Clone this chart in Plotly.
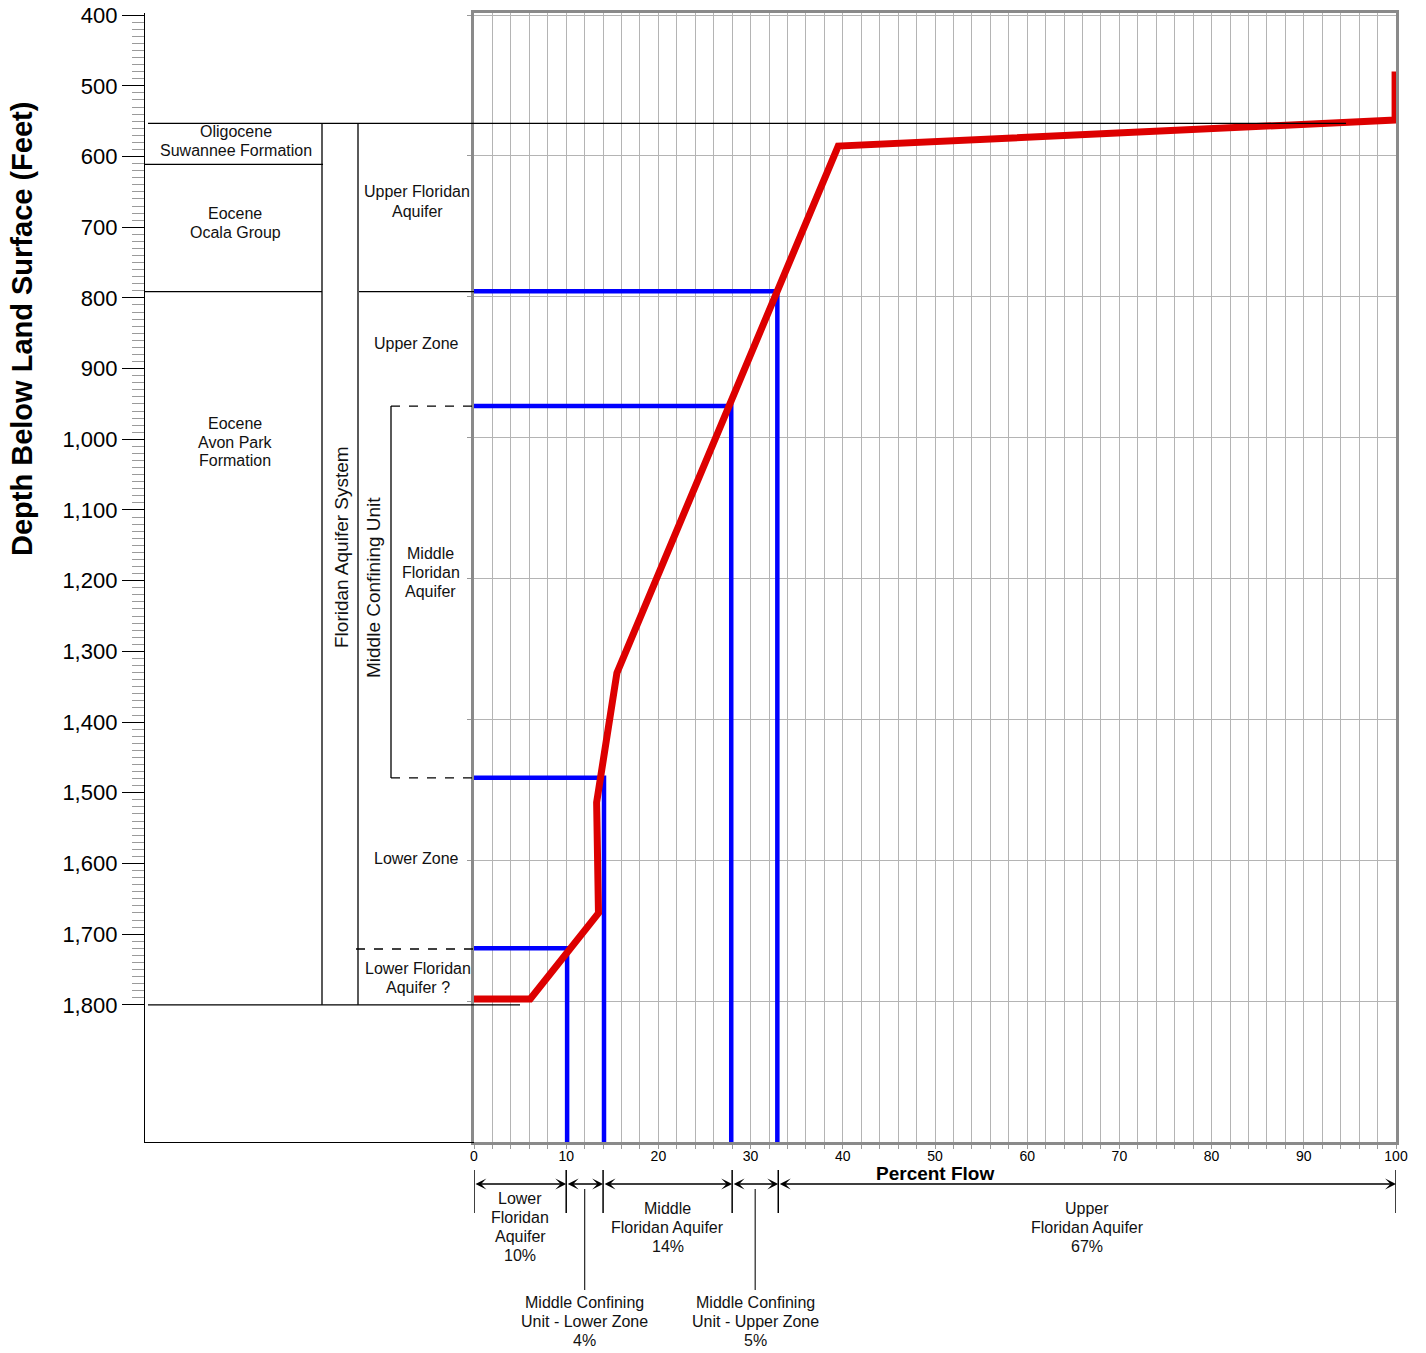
import plotly.graph_objects as go

W, H = 1426, 1353

# ---- data -------------------------------------------------------------
# depth ladder on the left (feet below land surface)
depth_ticks = list(range(400, 1900, 100))
depth_tick_text = [f"{d:,}" for d in depth_ticks]
depth_minor = list(range(400, 1810, 10))

# cumulative percent flow profile versus depth
flow_pct = [0, 6.1, 13.5, 13.3, 15.5, 39.5, 99.9, 99.9]
flow_depth = [1797, 1797, 1675, 1518, 1334, 586, 549, 480]

# zone boundary picks: depth and cumulative percent flow at that depth
pick_depth = [792, 955, 1483, 1725]
pick_pct = [32.9, 27.9, 14.1, 10.1]

# stratigraphic / hydrogeologic boundaries (ft)
suwannee_top = 553
ocala_top = 611
avon_park_top = 791
section_base = 1800
mfa_top = 953
mfa_base = 1479
lfa_top = 1721

# share of total flow by zone, deepest first
zone_names = [["Lower", "Floridan", "Aquifer"],
              ["Middle Confining", "Unit - Lower Zone"],
              ["Middle", "Floridan Aquifer"],
              ["Middle Confining", "Unit - Upper Zone"],
              ["Upper", "Floridan Aquifer"]]
zone_share = [10, 4, 14, 5, 67]

# ---- helpers ----------------------------------------------------------
LABEL = "Liberation Sans, Arial, sans-serif"
SANS = "Liberation Sans, Arial, sans-serif"


def px(x):
    return x / W


def py(y):
    return 1 - y / H


annotations = []
shapes = []


def text_block(lines, x, y0, xref="paper", size=16, step=19, family=LABEL):
    for i, t in enumerate(lines):
        annotations.append(dict(text=t, x=x, y=py(y0 + i * step), xref=xref, yref="paper",
                                showarrow=False, xanchor="center", yanchor="middle",
                                font=dict(family=family, size=size, color="#111")))


def free_text(text, x, y, size, angle=0, color="#111"):
    annotations.append(dict(text=text, x=px(x), y=py(y), xref="paper", yref="paper",
                            showarrow=False, textangle=angle, xanchor="center", yanchor="middle",
                            font=dict(family=SANS, size=size, color=color)))


def hline(y, x0, x1, dash="solid", yref="y"):
    shapes.append(dict(type="line", xref="paper", yref=yref, x0=px(x0), x1=px(x1), y0=y, y1=y,
                       line=dict(color="black", width=1.3, dash=dash)))


def vline(x, y0, y1):
    shapes.append(dict(type="line", xref="paper", yref="y", x0=px(x), x1=px(x), y0=y0, y1=y1,
                       line=dict(color="black", width=1.3)))


# ---- figure -----------------------------------------------------------
fig = go.Figure()

# left panel placeholder so the ladder subplot is built
fig.add_trace(go.Scatter(x=[0.5], y=[1000], xaxis="x2", yaxis="y", mode="markers",
                         marker=dict(opacity=0), hoverinfo="skip"))

# blue boundary picks
bx, by = [], []
for d, p in zip(pick_depth, pick_pct):
    bx += [0, p, p, None]
    by += [d, d, 2000, None]
fig.add_trace(go.Scatter(x=bx, y=by, xaxis="x", yaxis="y2", mode="lines",
                         line=dict(color="#0000ff", width=4.5), hoverinfo="skip"))

# red flow profile
fig.add_trace(go.Scatter(x=flow_pct, y=flow_depth, xaxis="x", yaxis="y2", mode="lines",
                         line=dict(color="#dd0000", width=7), hoverinfo="skip"))

# stratigraphic column
hline(suwannee_top, 148, 1346)
hline(ocala_top, 145, 323)
hline(avon_park_top, 145, 322)
hline(avon_park_top, 359, 474)
hline(section_base, 148, 520)
vline(322, suwannee_top, section_base)
vline(358, suwannee_top, section_base)
vline(391, mfa_top, mfa_base)
hline(mfa_top, 391, 474, dash="dash")
hline(mfa_base, 391, 474, dash="dash")
hline(lfa_top, 356, 474, dash="dash")

text_block(["Oligocene", "Suwannee Formation"], px(236), 132)
text_block(["Eocene", "Ocala Group"], px(235), 213)
text_block(["Eocene", "Avon Park", "Formation"], px(235), 423)
text_block(["Upper Floridan", "Aquifer"], px(417), 192)
text_block(["Upper Zone"], px(416), 343)
text_block(["Middle", "Floridan", "Aquifer"], px(431), 553)
text_block(["Lower Zone"], px(416), 858)
text_block(["Lower Floridan", "Aquifer ?"], px(418), 968)

free_text("Floridan Aquifer System", 341, 547, 19, angle=-90)
free_text("Middle Confining Unit", 373, 588, 19, angle=-90)
free_text("<b>Depth Below Land Surface (Feet)</b>", 22, 329, 29, angle=-90, color="black")
free_text("<b>Percent Flow</b>", 935, 1173, 19, color="black")

# flow-share brackets under the percent axis
edges = [0]
for s in zone_share:
    edges.append(edges[-1] + s)
for e in edges:
    shapes.append(dict(type="line", xref="x", yref="paper", x0=e, x1=e, y0=py(1170), y1=py(1213),
                       line=dict(color="black", width=1.5)))
for a, b in zip(edges[:-1], edges[1:]):
    annotations.append(dict(x=b, y=py(1184), xref="x", yref="paper", ax=a, ay=0, axref="x", ayref="pixel",
                            text="", showarrow=True, arrowside="end+start", arrowhead=3, startarrowhead=3,
                            arrowsize=1.3, startarrowsize=1.3, arrowwidth=1.4, arrowcolor="black",
                            standoff=0, startstandoff=0))

for i, (names, share) in enumerate(zip(zone_names, zone_share)):
    mid = (edges[i] + edges[i + 1]) / 2
    lines = names + [f"{share}%"]
    if i == 0:
        text_block(lines, mid, 1198, xref="x")
    elif i in (1, 3):
        shapes.append(dict(type="line", xref="x", yref="paper", x0=mid, x1=mid, y0=py(1189), y1=py(1290),
                           line=dict(color="#333", width=1.3)))
        text_block(lines, mid, 1302, xref="x")
    else:
        text_block(lines, mid, 1208, xref="x")

ydom = [py(1142), py(13)]
GRID = "#b4b4b4"
FRAME = "#8a8a8a"

fig.update_layout(
    width=W, height=H, autosize=False, margin=dict(l=0, r=0, t=0, b=0, pad=0),
    paper_bgcolor="white", plot_bgcolor="white", showlegend=False,
    xaxis=dict(domain=[px(474), px(1396)], range=[0, 100], anchor="y2", automargin=False,
               showline=True, mirror=True, linecolor=FRAME, linewidth=2.5, layer="below traces",
               showgrid=True, gridcolor=GRID, gridwidth=1, zeroline=False,
               tickmode="linear", tick0=0, dtick=10, ticks="outside", ticklen=4,
               ticklabelstandoff=-5,
               tickcolor="#999", tickfont=dict(family=SANS, size=14, color="black"),
               minor=dict(dtick=2, tick0=0, showgrid=True, gridcolor=GRID, gridwidth=1,
                          ticks="outside", ticklen=4, tickcolor="#999")),
    yaxis2=dict(domain=ydom, range=[2000, 397], anchor="x", automargin=False,
                showline=True, mirror=True, linecolor=FRAME, linewidth=2.5, layer="below traces",
                showgrid=True, gridcolor=GRID, gridwidth=1.3, zeroline=False,
                tickmode="array", tickvals=list(range(400, 2001, 200)),
                ticks="outside", ticklen=4, tickcolor="#999", showticklabels=False),
    xaxis2=dict(domain=[px(145), px(474)], range=[0, 1], anchor="y", automargin=False,
                showline=True, linecolor="black", linewidth=1.3, showgrid=False,
                zeroline=False, showticklabels=False, ticks=""),
    yaxis=dict(domain=ydom, range=[1994, 397], anchor="x2", automargin=False,
               showline=True, linecolor="black", linewidth=1.3, showgrid=False, zeroline=False,
               tickmode="array", tickvals=depth_ticks, ticktext=depth_tick_text,
               ticks="outside", ticklen=22, tickwidth=1.3, tickcolor="black",
               tickfont=dict(family=SANS, size=22, color="black"),
               minor=dict(tickmode="array", tickvals=depth_minor, ticks="outside",
                          ticklen=12, tickcolor="#9a9a9a", tickwidth=1, showgrid=False)),
    shapes=shapes,
    annotations=annotations,
)

fig.write_html("out.html")
